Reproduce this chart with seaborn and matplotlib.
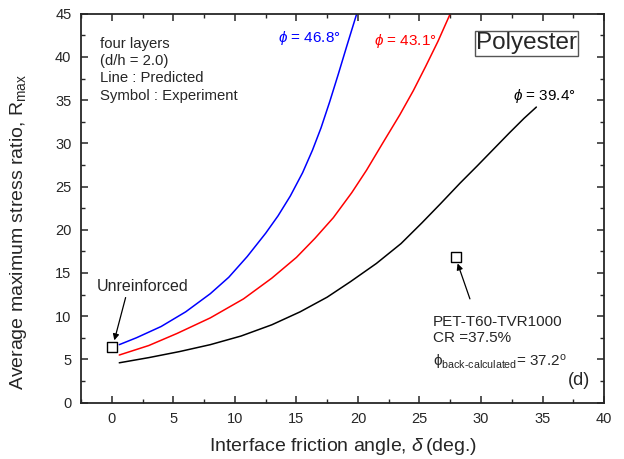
import numpy as np
import pandas as pd
import matplotlib
matplotlib.use("Agg")
import matplotlib.pyplot as plt
from matplotlib.ticker import MultipleLocator
import seaborn as sns

# ── Data ─────────────────────────────────────────────────────────────────────
delta_468 = [0.6, 2.0, 4.0, 6.0, 8.0, 9.5, 11.0, 12.5, 13.5, 14.5, 15.5, 16.3,
             17.0, 17.7, 18.4, 19.1, 19.9]
R_468     = [6.7, 7.5, 8.8, 10.5, 12.6, 14.5, 16.9, 19.6, 21.6, 23.9, 26.6, 29.2,
             31.8, 34.8, 38.0, 41.3, 45.0]

delta_431 = [0.6, 3.0, 5.3, 8.0, 10.7, 13.0, 15.0, 16.5, 18.0, 19.5, 20.7, 22.0,
             23.4, 24.5, 25.5, 26.5, 27.5]
R_431     = [5.5, 6.6, 8.0, 9.8, 12.0, 14.4, 16.8, 19.0, 21.4, 24.3, 26.9, 30.0,
             33.3, 36.1, 38.9, 41.8, 45.0]

delta_394 = [0.6, 3.0, 5.5, 8.0, 10.5, 13.0, 15.3, 17.5, 19.4, 21.5, 23.5, 25.2,
             26.7, 28.3, 29.7, 31.0, 32.3, 33.5, 34.5]
R_394     = [4.6, 5.2, 5.9, 6.7, 7.7, 9.0, 10.5, 12.2, 14.0, 16.1, 18.4, 20.8,
             23.0, 25.4, 27.4, 29.3, 31.2, 32.9, 34.2]

exp_delta = [0.0, 28.0]
exp_R     = [6.4, 16.9]

SERIES = ["46.8", "43.1", "39.4"]
COLORS = {"46.8": "#0000ff", "43.1": "#ff0000", "39.4": "#000000"}

curves = pd.concat([
    pd.DataFrame({"delta": delta_468, "R": R_468, "phi": "46.8"}),
    pd.DataFrame({"delta": delta_431, "R": R_431, "phi": "43.1"}),
    pd.DataFrame({"delta": delta_394, "R": R_394, "phi": "39.4"}),
])
points = pd.DataFrame({"delta": exp_delta, "R": exp_R})

# ── Style ────────────────────────────────────────────────────────────────────
sns.set_style("ticks")
plt.rcParams.update({
    "font.family":        ["Liberation Sans", "DejaVu Sans"],
    "font.size":          10,
    "mathtext.fontset":   "custom",
    "mathtext.rm":        "Liberation Sans",
    "mathtext.it":        "Liberation Sans:italic",
    "axes.linewidth":     1.3,
    "xtick.direction":    "in",
    "ytick.direction":    "in",
    "xtick.top":          True,
    "ytick.right":        True,
})

fig = plt.figure(figsize=(6.24, 4.59), dpi=100)
ax = fig.add_axes([0.13, 0.123, 0.838, 0.847])

sns.lineplot(data=curves, x="delta", y="R", hue="phi", hue_order=SERIES,
             palette=COLORS, sort=False, linewidth=1.1, legend=False, ax=ax)
sns.scatterplot(data=points, x="delta", y="R", marker="s", s=55,
                facecolor="white", edgecolor="black", linewidth=1.0,
                legend=False, ax=ax, zorder=5)

ax.set_xlim(-2.5, 40)
ax.set_ylim(0, 45)
ax.xaxis.set_major_locator(MultipleLocator(5))
ax.xaxis.set_minor_locator(MultipleLocator(2.5))
ax.yaxis.set_major_locator(MultipleLocator(5))
ax.yaxis.set_minor_locator(MultipleLocator(2.5))
ax.tick_params(which="major", length=5, width=1.1, labelsize=10.5, pad=7)
ax.tick_params(which="minor", length=2.8, width=1.0)

ax.set_xlabel(r"Interface friction angle, $\delta\,$(deg.)", fontsize=14, labelpad=7)
ax.set_ylabel(r"Average maximum stress ratio, R$_{\rm max}$", fontsize=14)
ax.yaxis.set_label_coords(-0.1, 0.44)

# ── Annotations ──────────────────────────────────────────────────────────────
ax.text(-1.0, 38.5, "four layers\n(d/h = 2.0)\nLine : Predicted\nSymbol : Experiment",
        fontsize=10.7, va="center", ha="left", linespacing=1.28)

ax.text(13.5, 42.2, r"$\phi$ = 46.8$\degree$", color=COLORS["46.8"], fontsize=11,
        ha="left", va="center")
ax.text(21.3, 41.8, r"$\phi$ = 43.1$\degree$", color=COLORS["43.1"], fontsize=11,
        ha="left", va="center")
ax.text(32.6, 35.5, r"$\phi$ = 39.4$\degree$", color=COLORS["39.4"], fontsize=11,
        ha="left", va="center")

ax.text(33.7, 41.6, "Polyester", fontsize=17.5, ha="center", va="center",
        bbox=dict(boxstyle="square,pad=0.06", facecolor="white", edgecolor="#555555",
                  linewidth=1.0))

ax.annotate("Unreinforced", xy=(0.2, 7.2), xytext=(-1.2, 13.4), fontsize=11.5,
            ha="left", va="center",
            arrowprops=dict(arrowstyle="-|>", color="black", lw=0.9,
                            shrinkA=0, shrinkB=0,
                            relpos=(0.32, 0.0), mutation_scale=9))

ax.annotate("", xy=(28.1, 16.1), xytext=(29.1, 12.0),
            arrowprops=dict(arrowstyle="-|>", color="black", lw=0.9,
                            shrinkA=0, shrinkB=0, mutation_scale=9))
ax.text(26.1, 8.4, "PET-T60-TVR1000\nCR =37.5%", fontsize=11, ha="left",
        va="center", linespacing=1.25)
ax.text(26.1, 4.6, r"$\mathrm{\phi}_{\rm back\text{-}calculated}$= 37.2$^{\rm o}$",
        fontsize=11, ha="left", va="center")
ax.text(37.1, 2.6, "(d)", fontsize=13, ha="left", va="center")

fig.savefig("out.png", dpi=100)
